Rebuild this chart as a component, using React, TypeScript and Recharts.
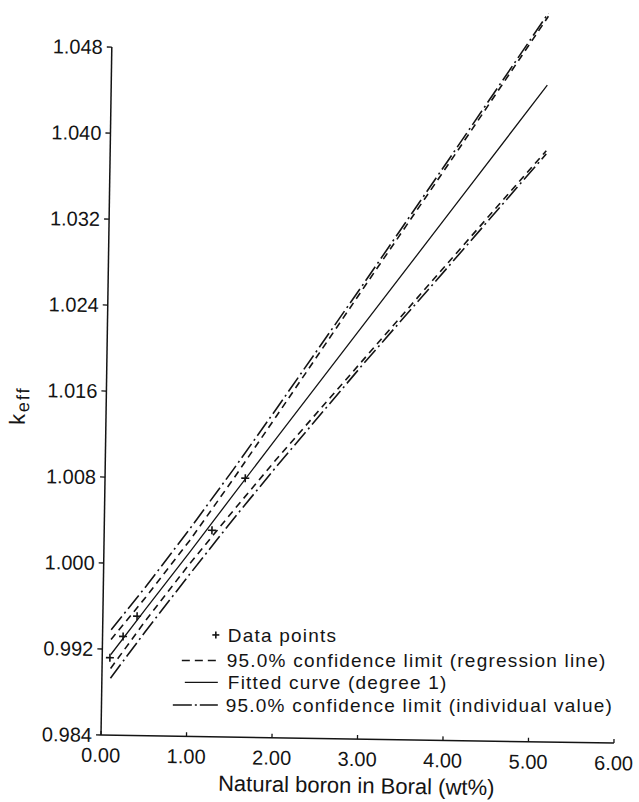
import { ComposedChart, Legend, Line, ReferenceLine, Scatter, XAxis, YAxis } from "recharts";

const boron = [0.1, 0.5, 1.0, 1.5, 2.0, 3.0, 4.0, 5.1];
const fitted = [0.9915, 0.9958, 1.0011, 1.0065, 1.0119, 1.0226, 1.0333, 1.0451];
const regUpper = [0.9929, 0.9969, 1.0022, 1.008, 1.014, 1.0261, 1.0381, 1.0515];
const regLower = [0.9902, 0.9947, 1.0, 1.005, 1.0099, 1.0193, 1.0287, 1.039];
const indUpper = [0.9938, 0.9979, 1.0033, 1.0089, 1.0147, 1.0265, 1.0385, 1.0518];
const indLower = [0.9893, 0.9937, 0.999, 1.0042, 1.0092, 1.0189, 1.0283, 1.0387];

// measured points
const pointBoron = [0.09, 0.24, 0.4, 1.26, 1.64];
const pointKeff = [0.9912, 0.9932, 0.9951, 1.0032, 1.0081];

const xTicks = [0, 1, 2, 3, 4, 5, 6];
const yTicks = [0.984, 0.992, 1.0, 1.008, 1.016, 1.024, 1.032, 1.04, 1.048];

const lineData = boron.map((x, i) => ({
  x,
  fitted: fitted[i],
  regUpper: regUpper[i],
  regLower: regLower[i],
  indUpper: indUpper[i],
  indLower: indLower[i],
}));
const pointData = pointBoron.map((x, i) => ({ x, y: pointKeff[i] }));

const FONT = "'Liberation Sans', Arial, Helvetica, sans-serif";
const INK = "#141414";
const REG_DASH = "7 5";
const IND_DASH = "17 4 2 4";
const TILT = 0.9; // the scanned page sits slightly askew

const Cross = (props: any) => {
  const { cx, cy } = props;
  return (
    <g stroke={INK} strokeWidth={1.6}>
      <line x1={cx - 4} x2={cx + 4} y1={cy} y2={cy} />
      <line x1={cx} x2={cx} y1={cy - 4} y2={cy + 4} />
    </g>
  );
};

const XTick = (props: any) => {
  const { x, y, payload } = props;
  return (
    <g>
      <line x1={x} x2={x} y1={y} y2={y - 4} stroke={INK} strokeWidth={1.3} />
      <text x={x} y={y + 27} textAnchor="middle" fontSize={20} fontFamily={FONT} fill={INK}>
        {Number(payload.value).toFixed(2)}
      </text>
    </g>
  );
};

const XTitle = () => (
  <text x={357} y={789} textAnchor="middle" fontSize={22} fontFamily={FONT} fill={INK}>
    Natural boron in Boral (wt%)
  </text>
);

const YTitle = () => (
  <text
    x={20}
    y={407}
    transform="rotate(-90 20 407)"
    textAnchor="middle"
    fontFamily={FONT}
    fill={INK}
    letterSpacing={2}
  >
    <tspan fontSize={22}>k</tspan>
    <tspan fontSize={18} dy={4}>
      eff
    </tspan>
  </text>
);

// legend kept level so its rows don't crowd each other
const KeyBox = () => (
  <svg
    width={470}
    height={100}
    style={{ overflow: "visible", transform: `rotate(${-TILT}deg)`, transformOrigin: "0 0" }}
  >
    <g stroke={INK} strokeWidth={1.6} fill="none">
      <line x1={50.5} x2={57.5} y1={16} y2={16} />
      <line x1={54} x2={54} y1={12.5} y2={19.5} />
      <line x1={20} x2={56} y1={41.5} y2={41.5} strokeDasharray="8 5" />
      <line x1={23} x2={56} y1={63.5} y2={63.5} strokeWidth={1.3} />
      <line x1={11} x2={56} y1={86} y2={86} strokeDasharray="19 3 2 3 18" />
    </g>
    <g fontSize={19} fontFamily={FONT} fill={INK} letterSpacing={1.2}>
      <text x={66} y={23}>Data points</text>
      <text x={65} y={48.5}>95.0% confidence limit (regression line)</text>
      <text x={66} y={70.5}>Fitted curve (degree 1)</text>
      <text x={64} y={93}>95.0% confidence limit (individual value)</text>
    </g>
  </svg>
);

export default function App() {
  return (
    <div
      style={{
        position: "absolute",
        left: 0,
        top: 0,
        width: 639,
        height: 802,
        background: "#fff",
        transform: `rotate(${TILT}deg)`,
        transformOrigin: "101px 735px",
      }}
    >
      <ComposedChart
        width={639}
        height={802}
        data={lineData}
        margin={{ top: 4, right: 25, bottom: 0, left: 0 }}
      >
        <XAxis
          dataKey="x"
          type="number"
          domain={[0, 6]}
          ticks={xTicks}
          height={67}
          tickSize={0}
          tickMargin={0}
          tickLine={false}
          tick={<XTick />}
          axisLine={{ stroke: INK, strokeWidth: 1.5 }}
          label={<XTitle />}
        />
        <YAxis
          type="number"
          domain={[0.984, 1.052]}
          allowDataOverflow
          ticks={yTicks}
          width={101}
          tickSize={5}
          tickMargin={4}
          axisLine={false}
          tickLine={{ stroke: INK, strokeWidth: 1.3 }}
          tickFormatter={(v: number) => v.toFixed(3)}
          tick={{ fontSize: 20, fontFamily: FONT, fill: INK }}
          label={<YTitle />}
        />
        <ReferenceLine
          segment={[
            { x: 0, y: 0.984 },
            { x: 0, y: 1.048 },
          ]}
          stroke={INK}
          strokeWidth={1.5}
          ifOverflow="visible"
        />
        <Line dataKey="indUpper" stroke={INK} strokeWidth={1.6} strokeDasharray={IND_DASH} dot={false} isAnimationActive={false} />
        <Line dataKey="regUpper" stroke={INK} strokeWidth={1.6} strokeDasharray={REG_DASH} dot={false} isAnimationActive={false} />
        <Line dataKey="fitted" stroke={INK} strokeWidth={1.3} dot={false} isAnimationActive={false} />
        <Line dataKey="regLower" stroke={INK} strokeWidth={1.6} strokeDasharray={REG_DASH} dot={false} isAnimationActive={false} />
        <Line dataKey="indLower" stroke={INK} strokeWidth={1.6} strokeDasharray={IND_DASH} dot={false} isAnimationActive={false} />
        <Scatter data={pointData} dataKey="y" shape={<Cross />} isAnimationActive={false} />
        <Legend
          layout="vertical"
          align="center"
          verticalAlign="middle"
          wrapperStyle={{ left: 160, top: 618, width: 470, height: 100 }}
          content={() => <KeyBox />}
        />
      </ComposedChart>
    </div>
  );
}
